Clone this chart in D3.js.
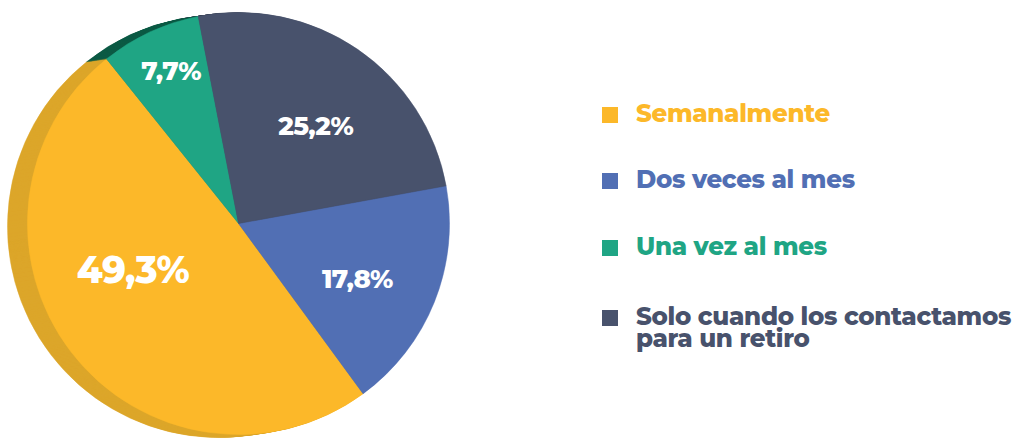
<!DOCTYPE html>
<html>
<head>
<meta charset="utf-8">
<script src="https://cdn.jsdelivr.net/npm/d3@7"></script>
<style>
  body { margin: 0; background: #fff; }
  text { font-family: Montserrat, "Open Sans", sans-serif; font-weight: 800; }
</style>
</head>
<body>
<div id="chart"></div>
<script>
// data, in legend order
var categories = ["Semanalmente", "Dos veces al mes", "Una vez al mes", "Solo cuando los contactamos|para un retiro"];
var values = [49.3, 17.8, 7.7, 25.2];
var valueLabels = ["49,3%", "17,8%", "7,7%", "25,2%"];

var colors = ["#fcb829", "#516fb4", "#1fa584", "#48526c"];
var sideColors = ["#dca62a", "#3f5a94", "#0c5a45", "#363e52"];

// clockwise order of slices in the pie (slate, blue, yellow, green)
var drawOrder = [3, 1, 0, 2];

var width = 1019, height = 440;
var cx = 238.5, cy = 223.5, r = 211;
var depth = {dx: -20, dy: 3};

var svg = d3.select("#chart").append("svg")
      .attr("width", width)
      .attr("height", height);

var data = categories.map(function (c, i) {
      return {name: c, value: values[i], label: valueLabels[i], i: i};
});

var pie = d3.pie()
      .value(function (d) { return d.value; })
      .sort(function (a, b) { return drawOrder.indexOf(a.i) - drawOrder.indexOf(b.i); })
      .startAngle(-11 * Math.PI / 180)
      .endAngle(349 * Math.PI / 180);

var arcs = pie(data);
var arc = d3.arc().innerRadius(0).outerRadius(r);

// side (extrusion) - stacked copies from back to front
var steps = 20;
for (var s = steps; s >= 1; s--) {
      var t = s / steps;
      svg.append("g")
            .attr("transform", "translate(" + (cx + depth.dx * t) + "," + (cy + depth.dy * t) + ")")
            .selectAll("path")
            .data(arcs)
            .enter().append("path")
            .attr("d", arc)
            .attr("fill", function (d) { return sideColors[d.data.i]; })
            .attr("stroke", function (d) { return sideColors[d.data.i]; })
            .attr("stroke-width", 0.5);
}

// front face
var face = svg.append("g")
      .attr("transform", "translate(" + cx + "," + cy + ")");

face.selectAll("path")
      .data(arcs)
      .enter().append("path")
      .attr("d", arc)
      .attr("fill", function (d) { return colors[d.data.i]; })
      .attr("stroke", function (d) { return colors[d.data.i]; })
      .attr("stroke-width", 0.5);

// value labels
var labelR = [0.545, 0.62, 0.79, 0.59];
var labelShift = [14, 3, 1, 4]; // degrees
var labelSize = [37, 26, 26, 26];

face.selectAll("text")
      .data(arcs)
      .enter().append("text")
      .attr("transform", function (d) {
            var k = d.data.i;
            var a = (d.startAngle + d.endAngle) / 2 + labelShift[k] * Math.PI / 180;
            var rr = r * labelR[k];
            return "translate(" + (rr * Math.sin(a)) + "," + (-rr * Math.cos(a)) + ")";
      })
      .attr("text-anchor", "middle")
      .attr("dy", "0.36em")
      .attr("fill", "#fff")
      .style("font-size", function (d) { return labelSize[d.data.i] + "px"; })
      .style("letter-spacing", "-0.6px")
      .text(function (d) { return d.data.label; });

// legend
var legendTops = [107, 173, 240, 310];
var legend = svg.append("g");

var item = legend.selectAll("g")
      .data(data)
      .enter().append("g")
      .attr("transform", function (d, i) { return "translate(602," + legendTops[i] + ")"; });

item.append("rect")
      .attr("width", 16)
      .attr("height", 16)
      .attr("fill", function (d) { return colors[d.i]; });

item.append("text")
      .attr("x", 34)
      .attr("y", 15)
      .attr("fill", function (d) { return colors[d.i]; })
      .style("font-size", "24.5px")
      .style("letter-spacing", "-0.3px")
      .selectAll("tspan")
      .data(function (d) { return d.name.split("|"); })
      .enter().append("tspan")
      .attr("x", 34)
      .attr("dy", function (d, j) { return j ? 22 : 0; })
      .text(function (d) { return d; });
</script>
</body>
</html>
